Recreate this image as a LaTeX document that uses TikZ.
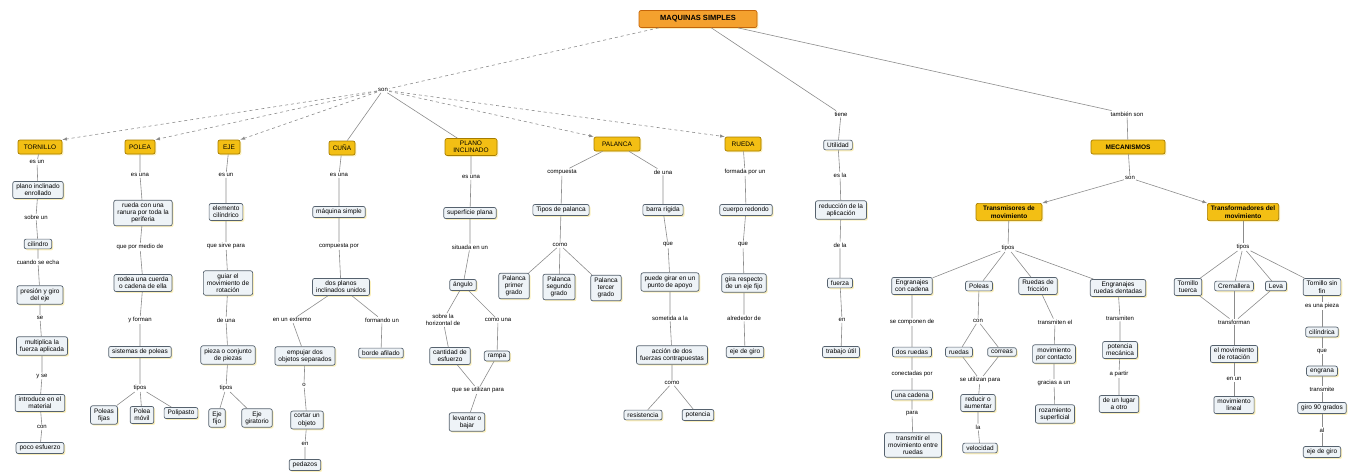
\documentclass[tikz,border=0pt]{standalone}
\usepackage{fontspec}
\setmainfont{Liberation Sans}
\usetikzlibrary{arrows,shadows}
\definecolor{linea}{HTML}{8C8C8C}
\definecolor{caja}{HTML}{EEF3F7}
\definecolor{borde}{HTML}{56626E}
\definecolor{oro}{HTML}{F3BF14}
\definecolor{orodark}{HTML}{A67C00}
\definecolor{naranja}{HTML}{F4A12E}
\definecolor{naranjadark}{HTML}{C4650A}
\definecolor{brillo}{HTML}{F8E27A}
\tikzset{
  concepto/.style={draw=borde, line width=0.7pt, fill=caja, rounded corners=2pt, inner xsep=3.5pt, inner ysep=2.5pt,
    align=center, font=\fontsize{6.5}{7.3}\selectfont,
    drop shadow={fill=brillo, shadow xshift=1.4pt, shadow yshift=-1.4pt}},
  maquina/.style={concepto, draw=orodark, fill=oro, minimum height=14pt},
  grande/.style={maquina, font=\bfseries\fontsize{6.5}{7.5}\selectfont},
  raiz/.style={concepto, draw=naranjadark, fill=naranja, minimum width=118pt, minimum height=17pt,
    font=\bfseries\fontsize{7.5}{8}\selectfont},
  enlace/.style={inner sep=1pt, align=center, font=\fontsize{6}{6.8}\selectfont},
  rama/.style={draw=linea, line width=0.6pt},
  flecha/.style={rama, -latex},
  guiones/.style={rama, dashed, -latex}
}
\begin{document}
\begin{tikzpicture}[x=1pt, y=-1pt] % mapa conceptual
  \useasboundingbox (0,0) rectangle (1356,472);
  \node[name=ms, raiz] at (698,19) {MAQUINAS SIMPLES};
  \node[name=son, enlace] at (383,90) {son};
  \node[name=m1, maquina, minimum width=44pt] at (40,147) {TORNILLO};
  \node[name=m2, maquina, minimum width=30pt] at (140,147) {POLEA};
  \node[name=m3, maquina, minimum width=22pt] at (229,147) {EJE};
  \node[name=m4, maquina, minimum width=26pt] at (342,148) {CUÑA};
  \node[name=m5, maquina, minimum width=52pt] at (471,147) {PLANO\\INCLINADO};
  \node[name=m6, maquina, minimum width=46pt] at (617,144) {PALANCA};
  \node[name=m7, maquina, minimum width=36pt] at (743,144) {RUEDA};
  \draw[rama, dashed] (ms) -- (son);
  \draw[guiones] (son) -- (m1.north east);
  \draw[guiones] (son) -- (m2.north east);
  \draw[guiones] (son) -- (m3.north east);
  \draw[rama] (son) -- (m4);
  \draw[rama] (son) -- (m5);
  \draw[guiones] (son) -- (m6.north west);
  \draw[guiones] (son) -- (m7.north west);
  % tornillo
  \node[name=l11, enlace] at (37,162) {es un};
  \node[name=c11, concepto] at (38,190) {plano inclinado\\enrollado};
  \node[name=l12, enlace] at (36,217) {sobre un};
  \node[name=c12, concepto] at (38,244) {cilindro};
  \node[name=l13, enlace] at (38,262) {cuando se echa};
  \node[name=c13, concepto] at (40,295) {presión y giro\\del eje};
  \node[name=l14, enlace] at (40,318) {se};
  \node[name=c14, concepto] at (42,346) {multiplica la\\fuerza aplicada};
  \node[name=l15, enlace] at (42,376) {y se};
  \node[name=c15, concepto] at (40,403) {introduce en el\\material};
  \node[name=l16, enlace] at (42,427) {con};
  \node[name=c16, concepto] at (40,448) {poco esfuerzo};
  \draw[rama] (m1) -- (l11) -- (c11) -- (l12) -- (c12) -- (l13) -- (c13) -- (l14) -- (c14) -- (l15) -- (c15) -- (l16) -- (c16);
  % polea
  \node[name=l21, enlace] at (140,175) {es una};
  \node[name=c21, concepto] at (143,213) {rueda con una\\ranura por toda la\\periferia};
  \node[name=l22, enlace] at (140,247) {que por medio de};
  \node[name=c22, concepto] at (143,283) {rodea una cuerda\\o cadena de ella};
  \node[name=l23, enlace] at (140,320) {y forman};
  \node[name=c23, concepto] at (140,352) {sistemas de poleas};
  \node[name=l24, enlace] at (140,388) {tipos};
  \node[name=c24, concepto] at (104,415) {Poleas\\fijas};
  \node[name=c25, concepto] at (142,415) {Polea\\móvil};
  \node[name=c26, concepto] at (181,413) {Polipasto};
  \draw[rama] (m2) -- (l21) -- (c21) -- (l22) -- (c22) -- (l23) -- (c23) -- (l24);
  \draw[rama] (l24) -- (c24);
  \draw[rama] (l24) -- (c25);
  \draw[rama] (l24) -- (c26);
  % eje
  \node[name=l31, enlace] at (226,175) {es un};
  \node[name=c31, concepto] at (226,212) {elemento\\cilíndrico};
  \node[name=l32, enlace] at (226,246) {que sirve para};
  \node[name=c32, concepto] at (228,283) {guiar el\\movimiento de\\rotación};
  \node[name=l33, enlace] at (226,320) {de una};
  \node[name=c33, concepto] at (228,355) {pieza o conjunto\\de piezas};
  \node[name=l34, enlace] at (226,388) {tipos};
  \node[name=c34, concepto] at (217,418) {Eje\\fijo};
  \node[name=c35, concepto] at (257,418) {Eje\\giratorio};
  \draw[rama] (m3) -- (l31) -- (c31) -- (l32) -- (c32) -- (l33) -- (c33) -- (l34);
  \draw[rama] (l34) -- (c34);
  \draw[rama] (l34) -- (c35);
  % cuña
  \node[name=l41, enlace] at (339,175) {es una};
  \node[name=c41, concepto] at (339,212) {máquina simple};
  \node[name=l42, enlace] at (339,246) {compuesta por};
  \node[name=c42, concepto] at (341,287) {dos planos\\inclinados unidos};
  \node[name=l43, enlace] at (292,320) {en un extremo};
  \node[name=l44, enlace] at (382,320) {formando un};
  \node[name=c43, concepto] at (305,356) {empujar dos\\objetos separados};
  \node[name=c44, concepto] at (381,353) {borde afilado};
  \node[name=l45, enlace] at (304,385) {o};
  \node[name=c45, concepto] at (307,420) {cortar un\\objeto};
  \node[name=l46, enlace] at (305,444) {en};
  \node[name=c46, concepto] at (305,465) {pedazos};
  \draw[rama] (m4) -- (l41) -- (c41) -- (l42) -- (c42);
  \draw[rama] (c42) -- (l43) -- (c43) -- (l45) -- (c45) -- (l46) -- (c46);
  \draw[rama] (c42) -- (l44) -- (c44);
  % plano inclinado
  \node[name=l51, enlace] at (471,177) {es una};
  \node[name=c51, concepto] at (470,213) {superficie plana};
  \node[name=l52, enlace] at (470,247) {situada en un};
  \node[name=c52, concepto] at (463,285) {ángulo};
  \node[name=l53, enlace] at (443,320) {sobre la\\horizontal de};
  \node[name=l54, enlace] at (498,320) {como una};
  \node[name=c53, concepto] at (450,356) {cantidad de\\esfuerzo};
  \node[name=c54, concepto] at (497,356) {rampa};
  \node[name=l55, enlace] at (478,390) {que se utilizan para};
  \node[name=c55, concepto] at (467,422) {levantar o\\bajar};
  \draw[rama] (m5) -- (l51) -- (c51) -- (l52) -- (c52);
  \draw[rama] (c52) -- (l53) -- (c53) -- (l55);
  \draw[rama] (c52) -- (l54) -- (c54) -- (l55);
  \draw[rama] (l55) -- (c55);
  % palanca
  \node[name=l61, enlace] at (562,172) {compuesta};
  \node[name=c61, concepto] at (561,210) {Tipos de palanca};
  \node[name=l62, enlace] at (560,245) {como};
  \node[name=c62, concepto] at (514,286) {Palanca\\primer\\grado};
  \node[name=c63, concepto] at (559,287) {Palanca\\segundo\\grado};
  \node[name=c64, concepto] at (606,288) {Palanca\\tercer\\grado};
  \node[name=l63, enlace] at (663,172) {de una};
  \node[name=c65, concepto] at (663,210) {barra rígida};
  \node[name=l64, enlace] at (668,245) {que};
  \node[name=c66, concepto] at (670,282) {puede girar en un\\punto de apoyo};
  \node[name=l65, enlace] at (670,318) {sometida a la};
  \node[name=c67, concepto] at (672,355) {acción de dos\\fuerzas contrapuestas};
  \node[name=l66, enlace] at (672,383) {como};
  \node[name=c68, concepto] at (643,415) {resistencia};
  \node[name=c69, concepto] at (698,415) {potencia};
  \draw[rama] (m6) -- (l61) -- (c61) -- (l62);
  \draw[rama] (l62) -- (c62);
  \draw[rama] (l62) -- (c63);
  \draw[rama] (l62) -- (c64);
  \draw[rama] (m6) -- (l63) -- (c65) -- (l64) -- (c66) -- (l65) -- (c67) -- (l66);
  \draw[rama] (l66) -- (c68);
  \draw[rama] (l66) -- (c69);
  % rueda
  \node[name=l71, enlace] at (745,172) {formada por un};
  \node[name=c71, concepto] at (746,210) {cuerpo redondo};
  \node[name=l72, enlace] at (743,245) {que};
  \node[name=c72, concepto] at (744,283) {gira respecto\\de un eje fijo};
  \node[name=l73, enlace] at (744,318) {alrededor de};
  \node[name=c73, concepto] at (745,352) {eje de giro};
  \draw[rama] (m7) -- (l71) -- (c71) -- (l72) -- (c72) -- (l73) -- (c73);
  % utilidad
  \node[name=l81, enlace] at (841,114) {tiene};
  \node[name=c81, concepto] at (838,145) {Utilidad};
  \node[name=l82, enlace] at (840,175) {es la};
  \node[name=c82, concepto] at (841,210) {reducción de la\\aplicación};
  \node[name=l83, enlace] at (840,245) {de la};
  \node[name=c83, concepto] at (840,283) {fuerza};
  \node[name=l84, enlace] at (842,320) {en};
  \node[name=c84, concepto] at (841,352) {trabajo útil};
  \draw[rama] (ms) -- (l81) -- (c81) -- (l82) -- (c82) -- (l83) -- (c83) -- (l84) -- (c84);
  % mecanismos
  \node[name=l91, enlace] at (1127,114) {también son};
  \node[name=c91, grande, minimum width=74pt] at (1128,147) {MECANISMOS};
  \node[name=l92, enlace] at (1130,178) {son};
  \node[name=c92, grande, minimum width=66pt] at (1009,212) {Transmisores de\\movimiento};
  \node[name=c93, grande, minimum width=70pt] at (1243,212) {Transformadores del\\movimiento};
  \draw[rama] (ms) -- (l91) -- (c91) -- (l92);
  \draw[flecha] (l92) -- (c92.north east);
  \draw[flecha] (l92) -- (c93.north west);
  % transmisores
  \node[name=l93, enlace] at (1008,248) {tipos};
  \node[name=ca1, concepto] at (912,286) {Engranajes\\con cadena};
  \node[name=ca2, concepto] at (979,286) {Poleas};
  \node[name=ca3, concepto] at (1038,286) {Ruedas de\\fricción};
  \node[name=ca4, concepto] at (1118,288) {Engranajes\\ruedas dentadas};
  \draw[rama] (c92) -- (l93);
  \draw[rama] (l93) -- (ca1);
  \draw[rama] (l93) -- (ca2);
  \draw[rama] (l93) -- (ca3);
  \draw[rama] (l93) -- (ca4);
  \node[name=la1, enlace] at (912,322) {se componen de};
  \node[name=ca5, concepto] at (912,352) {dos ruedas};
  \node[name=la2, enlace] at (912,374) {conectadas por};
  \node[name=ca6, concepto] at (912,395) {una cadena};
  \node[name=la3, enlace] at (912,413) {para};
  \node[name=ca7, concepto] at (913,445) {transmitir el\\movimiento entre\\ruedas};
  \draw[rama] (ca1) -- (la1) -- (ca5) -- (la2) -- (ca6) -- (la3) -- (ca7);
  \node[name=lb1, enlace] at (978,321) {con};
  \node[name=cb1, concepto] at (959,352) {ruedas};
  \node[name=cb2, concepto] at (1002,352) {correas};
  \node[name=lb2, enlace] at (980,380) {se utilizan para};
  \node[name=cb3, concepto] at (978,403) {reducir o\\aumentar};
  \node[name=lb3, enlace] at (978,427) {la};
  \node[name=cb4, concepto] at (980,448) {velocidad};
  \draw[rama] (ca2) -- (lb1);
  \draw[rama] (lb1) -- (cb1) -- (lb2);
  \draw[rama] (lb1) -- (cb2) -- (lb2);
  \draw[rama] (lb2) -- (cb3) -- (lb3) -- (cb4);
  \node[name=lc1, enlace] at (1055,322) {transmiten el};
  \node[name=cc1, concepto] at (1054,354) {movimiento\\por contacto};
  \node[name=lc2, enlace] at (1054,383) {gracias a un};
  \node[name=cc2, concepto] at (1055,414) {rozamiento\\superficial};
  \draw[rama] (ca3) -- (lc1) -- (cc1) -- (lc2) -- (cc2);
  \node[name=ld1, enlace] at (1120,318) {transmiten};
  \node[name=cd1, concepto] at (1120,350) {potencia\\mecánica};
  \node[name=ld2, enlace] at (1119,374) {a partir};
  \node[name=cd2, concepto] at (1119,404) {de un lugar\\a otro};
  \draw[rama] (ca4) -- (ld1) -- (cd1) -- (ld2) -- (cd2);
  % transformadores
  \node[name=l94, enlace] at (1243,247) {tipos};
  \node[name=ce1, concepto] at (1188,287) {Tornillo\\tuerca};
  \node[name=ce2, concepto] at (1234,286) {Cremallera};
  \node[name=ce3, concepto] at (1276,286) {Leva};
  \node[name=ce4, concepto] at (1322,287) {Tornillo sin\\fin};
  \draw[rama] (c93) -- (l94);
  \draw[rama] (l94) -- (ce1);
  \draw[rama] (l94) -- (ce2);
  \draw[rama] (l94) -- (ce3);
  \draw[rama] (l94) -- (ce4);
  \node[name=le1, enlace] at (1234,322) {transforman};
  \node[name=ce5, concepto] at (1234,354) {el movimiento\\de rotación};
  \node[name=le2, enlace] at (1234,379) {en un};
  \node[name=ce6, concepto] at (1234,405) {movimiento\\lineal};
  \draw[rama] (ce1) -- (le1);
  \draw[rama] (ce2) -- (le1);
  \draw[rama] (ce3) -- (le1);
  \draw[rama] (le1) -- (ce5) -- (le2) -- (ce6);
  \node[name=lf1, enlace] at (1322,306) {es una pieza};
  \node[name=cf1, concepto] at (1322,332) {cilíndrica};
  \node[name=lf2, enlace] at (1322,351) {que};
  \node[name=cf2, concepto] at (1322,371) {engrana};
  \node[name=lf3, enlace] at (1322,389) {transmite};
  \node[name=cf3, concepto] at (1322,408) {giro 90 grados};
  \node[name=lf4, enlace] at (1322,430) {al};
  \node[name=cf4, concepto] at (1322,452) {eje de giro};
  \draw[rama] (ce4) -- (lf1) -- (cf1) -- (lf2) -- (cf2) -- (lf3) -- (cf3) -- (lf4) -- (cf4);
\end{tikzpicture}
\end{document}
